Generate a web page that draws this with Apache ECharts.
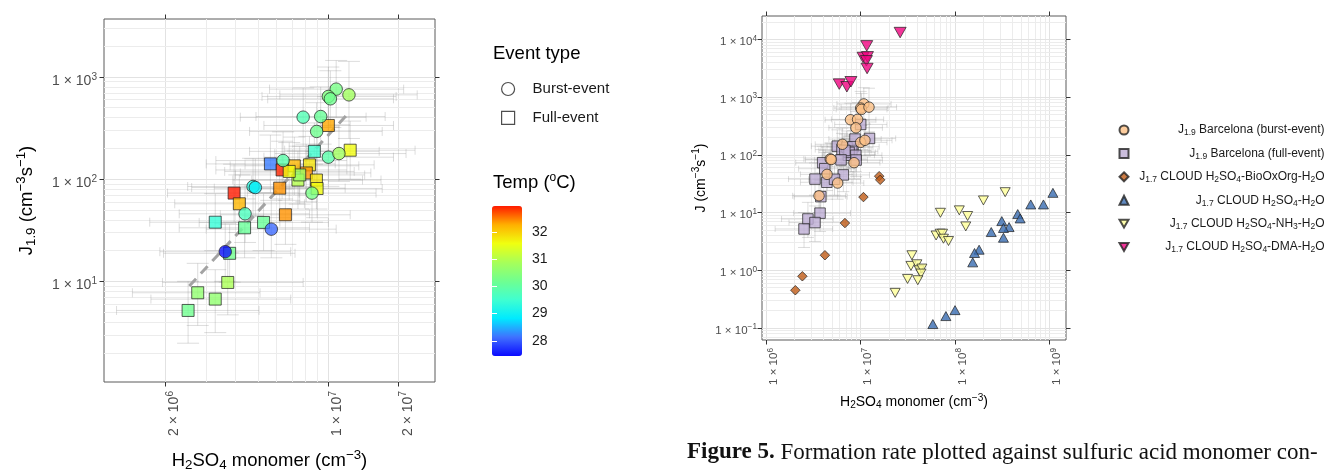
<!DOCTYPE html>
<html><head><meta charset="utf-8">
<script src="https://cdn.jsdelivr.net/npm/echarts@6/dist/echarts.min.js"></script>
<style>html,body{margin:0;padding:0;background:#fff}#c{width:1327px;height:472px}</style>
</head><body><div id="c"></div>
<script>
// ---------- Barcelona J1.9 data (shared by both panels) ----------
const burstX = [1.08e7, 1.0e7, 1.02e7, 1.225e7, 7.8e6, 9.27e6, 8.91e6, 1.0e7, 1.11e7, 6.4e6, 4.76e6, 4.87e6, 8.51e6, 4.4e6, 5.7e6, 3.62e6];
const burstJ = [760, 644, 611, 668, 404, 410, 293, 164, 178, 152, 84.7, 82.8, 73, 45.8, 32.4, 19.5];
const burstT = [30.3, 30.4, 30.2, 30.8, 29.8, 30.1, 30.2, 29.9, 30.8, 29.9, 29.3, 28.9, 30.3, 29.7, 28.1, 27.5];
const burstXlo = [5.6e6, 5.2e6, 5.5e6, 6.2e6, 4.2e6, 4.9e6, 4.6e6, 5.3e6, 5.9e6, 3.3e6, 2.5e6, 2.6e6, 4.5e6, 2.3e6, 3.0e6, 1.9e6];
const burstXhi = [2.1e7, 1.95e7, 1.9e7, 2.4e7, 1.45e7, 1.75e7, 1.7e7, 1.9e7, 2.15e7, 1.2e7, 9.0e6, 9.3e6, 1.6e7, 8.3e6, 1.08e7, 6.9e6];
const burstJlo = [400, 330, 320, 250, 210, 220, 150, 85, 95, 80, 44, 43, 38, 24, 17, 10];
const burstJhi = [1450, 1250, 1150, 1420, 780, 800, 560, 320, 340, 290, 160, 158, 140, 88, 62, 37];

const fullX = [1.0e7, 1.24e7, 8.71e6, 5.65e6, 6.34e6, 7.15e6, 8.3e6, 8.05e6, 7.41e6, 7.54e6, 6.8e6, 8.89e6, 8.95e6, 6.19e6, 3.95e6, 4.16e6, 6.55e6, 3.28e6, 4.38e6, 5.28e6, 3.78e6, 3.71e6, 2.76e6, 3.28e6, 2.51e6];
const fullJ = [335, 192, 187, 141, 123, 135, 138, 115, 98, 110, 119, 98, 81, 81.6, 73, 57.4, 44.8, 37.9, 33.4, 37.7, 18.8, 9.75, 7.73, 6.7, 5.19];
const fullT = [32.3, 31.6, 29.5, 28.2, 32.9, 32.2, 31.8, 32.4, 31.0, 30.7, 31.6, 31.8, 31.6, 32.4, 33.0, 32.2, 32.4, 29.4, 30.1, 30.1, 30.2, 30.9, 30.6, 30.6, 30.2];
const fullXlo = [5.3e6, 6.5e6, 4.6e6, 3.0e6, 3.3e6, 3.8e6, 4.4e6, 4.2e6, 3.9e6, 4.0e6, 3.6e6, 4.7e6, 4.7e6, 3.25e6, 2.05e6, 2.2e6, 3.45e6, 1.72e6, 2.3e6, 2.8e6, 1.97e6, 1.95e6, 1.45e6, 1.74e6, 1.24e6];
const fullXhi = [1.9e7, 2.35e7, 1.65e7, 1.07e7, 1.2e7, 1.35e7, 1.57e7, 1.52e7, 1.4e7, 1.43e7, 1.29e7, 1.68e7, 1.7e7, 1.18e7, 7.5e6, 7.9e6, 1.24e7, 6.2e6, 8.3e6, 1.0e7, 7.2e6, 7.8e6, 5.1e6, 6.9e6, 5.05e6];
const fullJlo = [175, 100, 98, 74, 64, 70, 72, 60, 51, 57, 62, 51, 42, 42, 38, 30, 23, 20, 17, 20, 9.8, 4.7, 3.7, 3.15, 2.48];
const fullJhi = [640, 370, 355, 270, 235, 258, 262, 220, 188, 210, 228, 186, 155, 156, 140, 110, 86, 72, 64, 72, 36, 19, 15, 13, 10];

// dashed fit line (left panel)
const fitX = [2.54e6, 1.23e7];
const fitJ = [9.0, 452];

// ---------- CLOUD J1.7 data (right panel) ----------
const bioX = [1.57e7, 1.61e7, 1.07e7, 6.81e6, 4.18e6, 2.41e6, 2.03e6];
const bioJ = [42.6, 36.8, 18.5, 6.57, 1.82, 0.787, 0.451];
const h2oX = [1.09e9, 8.65e8, 6.35e8, 4.62e8, 4.9e8, 3.74e8, 3.13e8, 3.26e8, 3.26e8, 2.42e8, 1.8e8, 1.61e8, 1.54e8, 1.0e8, 8.0e7, 5.82e7];
const h2oJ = [21.9, 13.8, 13.8, 9.4, 7.9, 5.6, 7.1, 5.4, 3.66, 4.59, 2.27, 1.99, 1.37, 0.204, 0.161, 0.117];
const nh3X = [3.4e8, 2.0e8, 1.11e8, 1.36e8, 1.3e8, 7.0e7, 6.3e7, 6.96e7, 7.37e7, 7.54e7, 8.53e7, 3.49e7, 3.41e7, 3.94e7, 4.17e7, 4.45e7, 4.35e7, 4.03e7, 3.14e7, 2.32e7];
const nh3J = [22.5, 16.2, 10.9, 8.7, 5.75, 9.9, 4.0, 4.3, 4.3, 3.52, 3.21, 1.82, 1.19, 1.27, 1.0, 1.07, 0.876, 0.672, 0.708, 0.406];
const dmaX = [2.62e7, 1.16e7, 1.06e7, 1.18e7, 1.15e7, 1.17e7, 5.93e6, 7.14e6, 7.88e6];
const dmaJ = [13070, 7690, 4840, 4970, 4240, 3120, 1675, 1506, 1837];

// ---------- axis tick labels ----------
const leftXTicks = [2e6, 1e7, 2e7];
const leftYTicks = [10, 100, 1000];
const rightXTicks = [1e6, 1e7, 1e8, 1e9];
const rightYTicks = [0.1, 1, 10, 100, 1000, 10000];
const tempTicks = [28, 29, 30, 31, 32];

const legendLeftNames = ['Burst-event', 'Full-event'];
const legendRightNames = ['J1.9 Barcelona (burst-event)', 'J1.9 Barcelona (full-event)',
  'J1.7 CLOUD H2SO4-BioOxOrg-H2O', 'J1.7 CLOUD H2SO4-H2O', 'J1.7 CLOUD H2SO4-NH3-H2O', 'J1.7 CLOUD H2SO4-DMA-H2O'];
const legendRightRich = [
  '{t|J}{s|1.9}{t| Barcelona (burst-event)}',
  '{t|J}{s|1.9}{t| Barcelona (full-event)}',
  '{t|J}{s|1.7}{t| CLOUD H}{s|2}{t|SO}{s|4}{t|-BioOxOrg-H}{s|2}{t|O}',
  '{t|J}{s|1.7}{t| CLOUD H}{s|2}{t|SO}{s|4}{t|-H}{s|2}{t|O}',
  '{t|J}{s|1.7}{t| CLOUD H}{s|2}{t|SO}{s|4}{t|-NH}{s|3}{t|-H}{s|2}{t|O}',
  '{t|J}{s|1.7}{t| CLOUD H}{s|2}{t|SO}{s|4}{t|-DMA-H}{s|2}{t|O}'
];

// ---------- helpers ----------
const FF = 'Liberation Sans, Arial, sans-serif';
const LX = [1.096e6, 2.86e7], LY = [1.035, 3690];
const RX = [9.0e5, 1.5e9], RY = [0.062, 25300];

function gridVals(range) {
  const out = [];
  const e0 = Math.floor(Math.log10(range[0])), e1 = Math.ceil(Math.log10(range[1]));
  for (let e = e0; e <= e1; e++) for (let k = 1; k <= 9; k++) {
    const v = +(k * Math.pow(10, e)).toPrecision(6);
    if (v > range[0] * 1.001 && v < range[1] * 0.999) out.push(v);
  }
  return out;
}
function sciFmt(v) {
  const e = Math.floor(Math.log10(v) + 1e-9);
  const m = Math.round(v / Math.pow(10, e));
  return m + ' \u00d7 10{sup|' + (e < 0 ? '\u2212' + (-e) : e) + '}';
}
function supRich(fs, color) {
  return { sup: { fontSize: fs * 0.72, fontFamily: FF, color: color, padding: [0, 0, fs * 0.6, 0] } };
}
function errRender(capH, capV) {
  return function (params, api) {
    const x = api.value(0), y = api.value(1);
    const pL = api.coord([api.value(2), y]), pH = api.coord([api.value(3), y]);
    const pB = api.coord([x, api.value(4)]), pT = api.coord([x, api.value(5)]);
    const segs = [
      [pL[0], pL[1], pH[0], pH[1]],
      [pL[0], pL[1] - capH, pL[0], pL[1] + capH],
      [pH[0], pH[1] - capH, pH[0], pH[1] + capH],
      [pB[0], pB[1], pT[0], pT[1]],
      [pB[0] - capV, pB[1], pB[0] + capV, pB[1]],
      [pT[0] - capV, pT[1], pT[0] + capV, pT[1]]
    ];
    return { type: 'group', children: segs.map(s => ({
      type: 'line', shape: { x1: s[0], y1: s[1], x2: s[2], y2: s[3] },
      style: { stroke: 'rgba(150,150,150,0.32)', lineWidth: 1 } })) };
  };
}
function zip(...arrs) { return arrs[0].map((_, i) => arrs.map(a => a[i])); }
function gridLineSeries(xi, yi, rangeX, rangeY, majX, majY) {
  const d = [];
  gridVals(rangeX).forEach(v => d.push({ xAxis: v, lineStyle: { color: majX.includes(v) ? '#e2e2e2' : '#ececec' } }));
  gridVals(rangeY).forEach(v => d.push({ yAxis: v, lineStyle: { color: majY.includes(v) ? '#e2e2e2' : '#ececec' } }));
  return { type: 'line', xAxisIndex: xi, yAxisIndex: yi, data: [], silent: true, z: 1,
    markLine: { silent: true, z: 1, symbol: 'none', animation: false, label: { show: false },
      lineStyle: { type: 'solid', width: 1 }, emphasis: { disabled: true }, data: d } };
}
function logAxis(grid, pos, range, ticks, showLabel, fs, rotate, margin, pad) {
  return {
    gridIndex: grid, type: 'log', logBase: 10, position: pos, min: range[0], max: range[1],
    axisLine: { show: false }, splitLine: { show: false }, nameMoveOverlap: false,
    axisTick: { show: true, customValues: ticks, length: 4.5, lineStyle: { color: '#333', width: 1 } },
    axisLabel: showLabel ? {
      customValues: ticks, formatter: sciFmt, fontSize: fs, color: '#4d4d4d', fontFamily: FF,
      rotate: rotate || 0, margin: margin, verticalAlign: rotate ? 'top' : 'middle',
      padding: pad || 0, rich: supRich(fs, '#4d4d4d')
    } : { show: false }
  };
}
const nameRich = (fs) => ({
  sub: { fontSize: fs * 0.72, fontFamily: FF, color: '#000', padding: [fs * 0.5, 0, 0, 0] },
  sup: { fontSize: fs * 0.72, fontFamily: FF, color: '#000', padding: [0, 0, fs * 0.6, 0] }
});

const tempColors = ['#0a0aff', '#4070ff', '#00eaff', '#40ffd0', '#70ff90', '#a8ff58', '#f0ff10', '#ffb000', '#ff1a00'];
const downTri = 'path://M0,0L20,0L10,17.3Z';
const edge = { borderColor: '#222', borderWidth: 0.9 };

// ---------- build option ----------
const series = [
  gridLineSeries(0, 0, LX, LY, leftXTicks, leftYTicks),
  gridLineSeries(2, 2, RX, RY, rightXTicks, rightYTicks),
  { type: 'custom', name: 'errL', xAxisIndex: 0, yAxisIndex: 0, silent: true, z: 2, clip: true,
    renderItem: errRender(4.5, 11), data: zip(fullX, fullJ, fullXlo, fullXhi, fullJlo, fullJhi).concat(zip(burstX, burstJ, burstXlo, burstXhi, burstJlo, burstJhi)) },
  { type: 'line', name: 'fit', xAxisIndex: 0, yAxisIndex: 0, silent: true, z: 3, symbol: 'none',
    lineStyle: { color: '#a3a3a3', width: 3, type: [10, 7] }, data: zip(fitX, fitJ) },
  { type: 'scatter', name: 'Full-event', xAxisIndex: 0, yAxisIndex: 0, symbol: 'rect', symbolSize: 12, z: 4,
    itemStyle: edge, data: zip(fullX, fullJ, fullT) },
  { type: 'scatter', name: 'Burst-event', xAxisIndex: 0, yAxisIndex: 0, symbol: 'circle', symbolSize: 12.5, z: 5,
    itemStyle: edge, data: zip(burstX, burstJ, burstT) },
  // right panel
  { type: 'custom', name: 'errR', xAxisIndex: 2, yAxisIndex: 2, silent: true, z: 2, clip: true,
    renderItem: errRender(3, 6), data: zip(fullX, fullJ, fullXlo, fullXhi, fullJlo, fullJhi).concat(zip(burstX, burstJ, burstXlo, burstXhi, burstJlo, burstJhi)) },
  { type: 'scatter', name: legendRightNames[1], xAxisIndex: 2, yAxisIndex: 2, symbol: 'rect', symbolSize: 10.5, z: 4,
    itemStyle: Object.assign({ color: '#BEAED4' }, edge), data: zip(fullX, fullJ) },
  { type: 'scatter', name: legendRightNames[0], xAxisIndex: 2, yAxisIndex: 2, symbol: 'circle', symbolSize: 10.5, z: 5,
    itemStyle: Object.assign({ color: '#FDC086' }, edge), data: zip(burstX, burstJ) },
  { type: 'scatter', name: legendRightNames[2], xAxisIndex: 2, yAxisIndex: 2, symbol: 'diamond', symbolSize: 9.5, z: 5,
    itemStyle: Object.assign({ color: '#BF5B17' }, edge), data: zip(bioX, bioJ) },
  { type: 'scatter', name: legendRightNames[3], xAxisIndex: 2, yAxisIndex: 2, symbol: 'triangle', symbolSize: [10, 9], z: 5,
    itemStyle: Object.assign({ color: '#386CB0' }, edge), data: zip(h2oX, h2oJ) },
  { type: 'scatter', name: legendRightNames[4], xAxisIndex: 2, yAxisIndex: 2, symbol: downTri, symbolSize: [10, 9], z: 5,
    itemStyle: Object.assign({ color: '#FFFF99' }, edge), data: zip(nh3X, nh3J) },
  { type: 'scatter', name: legendRightNames[5], xAxisIndex: 2, yAxisIndex: 2, symbol: downTri, symbolSize: [12, 10.5], z: 5,
    itemStyle: Object.assign({ color: '#F0027F' }, edge), data: zip(dmaX, dmaJ) }
];

const gridBase = { show: true, borderColor: '#5a5a5a', borderWidth: 1, backgroundColor: '#fff', containLabel: false, outerBoundsMode: 'none' };
const option = {
  animation: false,
  backgroundColor: '#fff',
  textStyle: { fontFamily: FF },
  grid: [
    Object.assign({ left: 104, top: 19, width: 331, height: 363 }, gridBase),
    { left: 492, top: 206, width: 30, height: 150, show: false, containLabel: false, outerBoundsMode: 'none' },
    Object.assign({ left: 762, top: 16, width: 304, height: 324 }, gridBase)
  ],
  xAxis: [
    Object.assign(logAxis(0, 'bottom', LX, leftXTicks, true, 14, 90, 9), {
      name: 'H{sub|2}SO{sub|4} monomer (cm{sup|\u22123})', nameLocation: 'middle', nameGap: 67,
      nameTextStyle: { fontSize: 18.5, color: '#000', fontFamily: FF, rich: nameRich(18.5) } }),
    { gridIndex: 1, type: 'value', show: false, min: 0, max: 1 },
    Object.assign(logAxis(2, 'bottom', RX, rightXTicks, true, 11.5, 90, 8), {
      name: 'H{sub|2}SO{sub|4} monomer (cm{sup|\u22123})', nameLocation: 'middle', nameGap: 53,
      nameTextStyle: { fontSize: 14, color: '#000', fontFamily: FF, rich: nameRich(14) } }),
    logAxis(0, 'top', LX, leftXTicks, false),
    logAxis(2, 'top', RX, rightXTicks, false)
  ],
  yAxis: [
    Object.assign(logAxis(0, 'left', LY, leftYTicks, true, 14, 0, 7, [8, 0, 0, 0]), {
      name: 'J{sub|1.9} (cm{sup|\u22123}s{sup|\u22121})', nameLocation: 'middle', nameGap: 65,
      nameTextStyle: { fontSize: 18.5, color: '#000', fontFamily: FF, rich: nameRich(18.5) } }),
    { gridIndex: 1, type: 'value', min: 27.44, max: 32.95, position: 'right', z: 10,
      axisLine: { show: false }, splitLine: { show: false },
      axisTick: { customValues: tempTicks, inside: true, length: 5, lineStyle: { color: '#fff', width: 1 } },
      axisLabel: { customValues: tempTicks, fontSize: 14, color: '#1a1a1a', margin: 10, fontFamily: FF } },
    Object.assign(logAxis(2, 'left', RY, rightYTicks, true, 11.5, 0, 5, [5, 0, 0, 0]), {
      name: 'J (cm{sup|\u22123}s{sup|\u22121})', nameLocation: 'middle', nameGap: 52,
      nameTextStyle: { fontSize: 14, color: '#000', fontFamily: FF, rich: nameRich(14) } }),
    logAxis(0, 'right', LY, leftYTicks, false),
    logAxis(2, 'right', RY, rightYTicks, false),
    { gridIndex: 1, type: 'value', min: 27.44, max: 32.95, position: 'left', z: 10,
      axisLine: { show: false }, splitLine: { show: false }, axisLabel: { show: false },
      axisTick: { customValues: tempTicks, inside: true, length: 5, lineStyle: { color: '#fff', width: 1 } } }
  ],
  visualMap: {
    type: 'continuous', min: 27.44, max: 32.95, dimension: 2, seriesIndex: [4, 5],
    inRange: { color: tempColors }, left: 492, top: 206, itemWidth: 30, itemHeight: 150,
    padding: 0, calculable: false, hoverLink: false, text: null, z: 2
  },
  legend: [
    { data: legendLeftNames, orient: 'vertical', left: 501, top: 81.5, itemWidth: 13, itemHeight: 13, itemGap: 13.8,
      selectedMode: false, padding: 0,
      itemStyle: { color: '#fff', borderColor: '#222', borderWidth: 1.2 },
      textStyle: { fontSize: 15, color: '#1a1a1a', fontFamily: FF, padding: [0, 0, 0, 13] } },
    { data: legendRightNames, orient: 'vertical', left: 1118.5, top: 124, itemWidth: 9, itemHeight: 9, itemGap: 9.9,
      selectedMode: false, padding: 0,
      formatter: n => legendRightRich[legendRightNames.indexOf(n)],
      textStyle: { width: 191, fontSize: 12, color: '#1a1a1a', fontFamily: FF,
        rich: { t: { align: 'right', fontSize: 12, fontFamily: FF, color: '#1a1a1a' },
                s: { align: 'right', fontSize: 8.5, fontFamily: FF, color: '#1a1a1a', padding: [6, 0, 0, 0] } } } }
  ],
  title: [
    { text: 'Event type', left: 493, top: 44, padding: 0, textStyle: { fontSize: 18.5, fontWeight: 'normal', color: '#000', fontFamily: FF } },
    { text: 'Temp ({sup|o}C)', left: 493, top: 172, padding: 0,
      textStyle: { fontSize: 18.5, fontWeight: 'normal', color: '#000', fontFamily: FF,
        rich: { sup: { fontSize: 12, fontFamily: FF, color: '#000', padding: [0, 0, 10, 0] } } } },
    { text: '{b|Figure 5.} Formation rate plotted against sulfuric acid monomer con-', left: 687, top: 441, padding: 0,
      textStyle: { fontSize: 23, fontWeight: 'normal', color: '#111', fontFamily: 'Liberation Serif, Times New Roman, serif',
        rich: { b: { fontSize: 23, fontWeight: 'bold', color: '#111', fontFamily: 'Liberation Serif, Times New Roman, serif' } } } }
  ],
  series: series
};
const chart = echarts.init(document.getElementById('c'), null, { renderer: 'canvas' });
chart.setOption(option);
</script>
</body></html>
